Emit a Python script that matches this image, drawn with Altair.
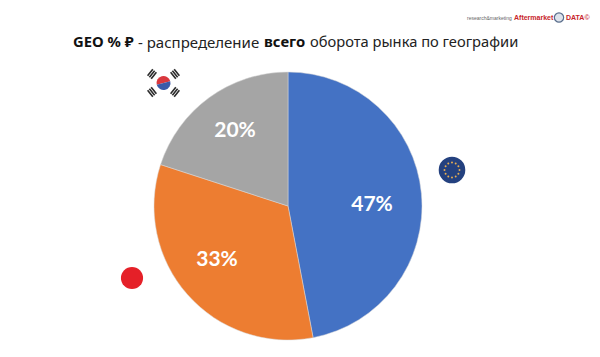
import math
import altair as alt
import pandas as pd

regions = ["Европа", "Россия", "Корея"]
shares = [47, 33, 20]
colors = ["#4472C4", "#ED7D31", "#A5A5A5"]
labels = ["47%", "33%", "20%"]
label_x = [372, 217, 235]
label_y = [205, 260, 131]

OX, OY = 8, 8
FONT = "Lato"
TITLE_FONT = "Noto Sans"

def px(v):
    return v - OX
def py(v):
    return v - OY

CX, CY, R = 288, 206, 134

pie_df = pd.DataFrame({"region": regions, "share": shares, "order": [0, 1, 2]})
pie = alt.Chart(pie_df).mark_arc(outerRadius=R, stroke="#D9D9D9", strokeWidth=0.5).encode(
    theta=alt.Theta("share:Q", stack=True, scale=alt.Scale(domain=[0, 100], range=[0, 2 * math.pi])),
    order=alt.Order("order:Q"),
    color=alt.Color("region:N", scale=alt.Scale(domain=regions, range=colors), legend=None),
    x=alt.value(px(CX)),
    y=alt.value(py(CY)),
)

def raw_x(f):
    return alt.X(f, scale=None, axis=None)
def raw_y(f):
    return alt.Y(f, scale=None, axis=None)

def text_layer(rows, size, weight, color, align="left", font=FONT):
    df = pd.DataFrame(rows, columns=["t", "x", "y"])
    df["x"] -= OX
    df["y"] -= OY
    return alt.Chart(df).mark_text(
        font=font, fontSize=size, fontWeight=weight, color=color, align=align, baseline="middle"
    ).encode(x=raw_x("x:Q"), y=raw_y("y:Q"), text="t:N")

pct = text_layer(list(zip(labels, label_x, label_y)), 21, "bold", "white", "center")

title_bold = text_layer([("GEO % ₽", 73, 43), ("всего", 264, 43)], 14.8, "bold", "#111111", font=TITLE_FONT)
title_reg_a = text_layer([("- распределение", 138, 43)], 15, "normal", "#222222", font=TITLE_FONT)
title_reg_b = text_layer([("оборота рынка по географии", 310, 43)], 14.7, "normal", "#222222", font=TITLE_FONT)

logo_small = text_layer([("research&marketing", 467, 17.5)], 5, "normal", "#666666", font="Liberation Sans")
logo_red = text_layer([("Aftermarket", 514, 17.5), ("DATA©", 566, 17.5)], 7, "bold", "#C8252B", font="Liberation Sans")

def dots(xs, ys, diam, color, stroke=None, sw=0):
    df = pd.DataFrame({"x": [v - OX for v in xs], "y": [v - OY for v in ys]})
    kw = {"stroke": stroke, "strokeWidth": sw} if stroke else {"strokeWidth": 0}
    return alt.Chart(df).mark_circle(size=math.pi * (diam / 2) ** 2, color=color, opacity=1, **kw).encode(
        x=raw_x("x:Q"), y=raw_y("y:Q")
    )

red_dot = dots([132], [278], 25, "#E52028")

eu_disc = dots([452], [170], 30, "#24417F")
eu_star_x = [452, 455.7, 458.4, 459.5, 458.4, 455.7, 452, 448.3, 445.6, 444.5, 445.6, 448.3]
eu_star_y = [162.5, 163.5, 166.2, 170, 173.8, 176.5, 177.5, 176.5, 173.8, 170, 166.2, 163.5]
eu_stars = dots(eu_star_x, eu_star_y, 2.2, "#E8AE52")

# Korean flag
FLAG_X, FLAG_Y, FLAG_R = 163.5, 83, 7
kr_df = pd.DataFrame({
    "a": [math.radians(-105), math.radians(75)],
    "b": [math.radians(75), math.radians(255)],
    "c": ["#D9383E", "#3A5AA8"],
})
kr_circle = alt.Chart(kr_df).mark_arc(outerRadius=FLAG_R).encode(
    theta=alt.Theta("a:Q", scale=None),
    theta2="b:Q",
    color=alt.Color("c:N", scale=None),
    x=alt.value(px(FLAG_X)),
    y=alt.value(py(FLAG_Y)),
)

tri_centers = [(-11.5, -9, 1), (11.5, -9, -1), (-11.5, 9, -1), (11.5, 9, 1)]
bar_x, bar_y, bar_x2, bar_y2 = [], [], [], []
for dx, dy, sgn in tri_centers:
    ux, uy = 0.62, -0.78 * sgn
    nx, ny = -uy, ux
    for off in (-2.3, 0, 2.3):
        mx = FLAG_X + dx + nx * off
        my = FLAG_Y + dy + ny * off
        bar_x.append(mx - ux * 4.2 - OX)
        bar_y.append(my - uy * 4.2 - OY)
        bar_x2.append(mx + ux * 4.2 - OX)
        bar_y2.append(my + uy * 4.2 - OY)
tri_df = pd.DataFrame({"x": bar_x, "y": bar_y, "x2": bar_x2, "y2": bar_y2})
kr_bars = alt.Chart(tri_df).mark_rule(color="#2A2A2A", strokeWidth=1.6).encode(
    x=raw_x("x:Q"), y=raw_y("y:Q"), x2="x2:Q", y2="y2:Q"
)

# logo globe
globe = dots([559], [17.5], 10.5, "#DDE3EC", stroke="#5A6E8C", sw=1.2)

chart = alt.layer(
    pie, pct, title_bold, title_reg_a, title_reg_b, logo_small, logo_red, globe,
    red_dot, eu_disc, eu_stars, kr_bars, kr_circle,
).properties(
    width=584, height=341,
    autosize=alt.AutoSizeParams(type="none"),
    padding=0,
    background="white",
).configure_view(stroke=None)

chart.save("out.html", embed_options={"renderer": "svg", "actions": False})
